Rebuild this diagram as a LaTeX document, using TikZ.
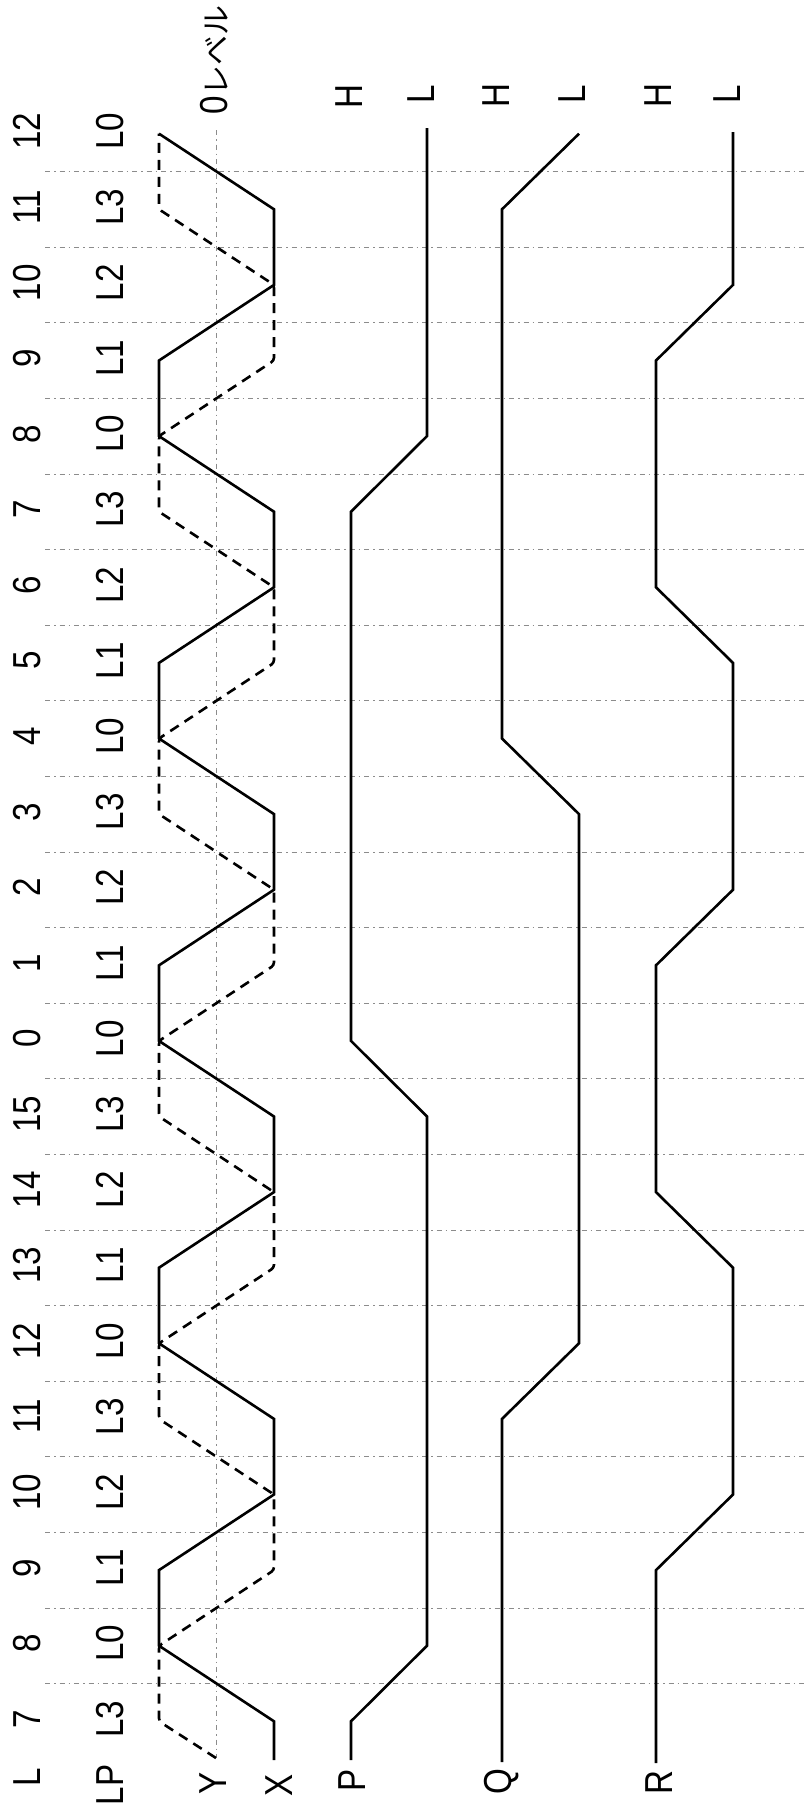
\documentclass[tikz,border=0pt]{standalone}
\usepackage{fontspec}
\setmainfont{Liberation Sans}
\newfontfamily\jpfont{Noto Sans CJK JP}
\newcommand\cnd[1]{\scalebox{0.85}[1]{#1}}
\tikzset{
  lbl/.style={rotate=90, inner sep=0pt, font=\fontsize{39}{39}\selectfont},
  sig/.style={line width=2.6pt, line join=miter, line cap=butt},
  ysig/.style={line width=2.6pt, dash pattern=on 10pt off 7pt, rounded corners=3pt},
  grid/.style={line width=0.7pt, black!45, dash pattern=on 5pt off 4pt on 1.5pt off 4pt},
}
\begin{document}
\begin{tikzpicture}[x=1pt, y=-1pt]
\useasboundingbox (0,0) rectangle (808,1813);
% cell centres
\def\ya{1721.3}\def\yb{1645.7}\def\yc{1570.1}\def\yd{1494.5}
\def\ye{1418.9}\def\yf{1343.3}\def\yg{1267.7}\def\yh{1192.1}
\def\yi{1116.5}\def\yj{1040.9}\def\yk{965.3}\def\yl{889.7}
\def\ym{814.1}\def\yn{738.5}\def\yo{662.9}\def\yp{587.3}
\def\yq{511.7}\def\yr{436.1}\def\ys{360.5}\def\yt{284.9}
\def\yu{209.3}\def\yv{133.7}
% grid lines
\foreach \j in {0,...,20}
  \draw[grid] (45,{1683.5-75.6*\j}) -- (808,{1683.5-75.6*\j});
% zero level
\draw[grid] (216,130) -- (216,1758);
% Y (dashed)
\draw[ysig] (216,1758) -- (159,\ya) -- (159,\yb) -- (274,\yc) -- (274,\yd)
  -- (159,\ye) -- (159,\yf) -- (274,\yg) -- (274,\yh) -- (159,\yi) -- (159,\yj)
  -- (274,\yk) -- (274,\yl) -- (159,\ym) -- (159,\yn) -- (274,\yo) -- (274,\yp)
  -- (159,\yq) -- (159,\yr) -- (274,\ys) -- (274,\yt) -- (159,\yu) -- (159,\yv);
% X (solid)
\draw[sig] (274,1760) -- (274,\ya) -- (159,\yb) -- (159,\yc) -- (274,\yd)
  -- (274,\ye) -- (159,\yf) -- (159,\yg) -- (274,\yh) -- (274,\yi) -- (159,\yj)
  -- (159,\yk) -- (274,\yl) -- (274,\ym) -- (159,\yn) -- (159,\yo) -- (274,\yp)
  -- (274,\yq) -- (159,\yr) -- (159,\ys) -- (274,\yt) -- (274,\yu) -- (159,\yv);
% P
\draw[sig] (351,1760) -- (351,\ya) -- (427,\yb) -- (427,\yi) -- (351,\yj)
  -- (351,\yq) -- (427,\yr) -- (427,128);
% Q
\draw[sig] (502,1762) -- (502,\ye) -- (579,\yf) -- (579,\ym) -- (502,\yn)
  -- (502,\yu) -- (579,\yv);
% R
\draw[sig] (656,1763) -- (656,\yc) -- (733,\yd) -- (733,\yg) -- (656,\yh)
  -- (656,\yk) -- (733,\yl) -- (733,\yo) -- (656,\yp) -- (656,\ys) -- (733,\yt)
  -- (733,132);
% column labels
\node[lbl] (lL) at (27,1777) {\cnd{L}};
\node[lbl] (lLP) at (110,1785) {\cnd{LP}};
\foreach \k/\n/\m in {0/7/L3,1/8/L0,2/9/L1,3/10/L2,4/11/L3,5/12/L0,6/13/L1,7/14/L2,
  8/15/L3,9/0/L0,10/1/L1,11/2/L2,12/3/L3,13/4/L0,14/5/L1,15/6/L2,16/7/L3,
  17/8/L0,18/9/L1,19/10/L2,20/11/L3,21/12/L0}{
  \node[lbl] (n\k) at (27,{1719-75.6*\k}) {\cnd{\n}};
  \node[lbl] (m\k) at (110,{1719-75.6*\k}) {\cnd{\m}};
}
% signal labels
\node[lbl] (tY) at (213,1783) {\cnd{Y}};
\node[lbl] (tX) at (279,1785) {\cnd{X}};
\node[lbl] (tP) at (352,1780) {\cnd{P}};
\node[lbl] (tQ) at (502,1782) {\cnd{Q}};
\node[lbl] (tR) at (659,1783) {\cnd{R}};
% top labels
\node[lbl] (zero) at (214,60) {\cnd{0}{\jpfont\fontsize{30}{30}\selectfont レベル}};
\node[lbl] (h1) at (349,97) {\cnd{H}};
\node[lbl] (l1) at (421,94) {\cnd{L}};
\node[lbl] (h2) at (496,96) {\cnd{H}};
\node[lbl] (l2) at (572,94) {\cnd{L}};
\node[lbl] (h3) at (658,96) {\cnd{H}};
\node[lbl] (l3) at (727,94) {\cnd{L}};
\end{tikzpicture}
\end{document}
